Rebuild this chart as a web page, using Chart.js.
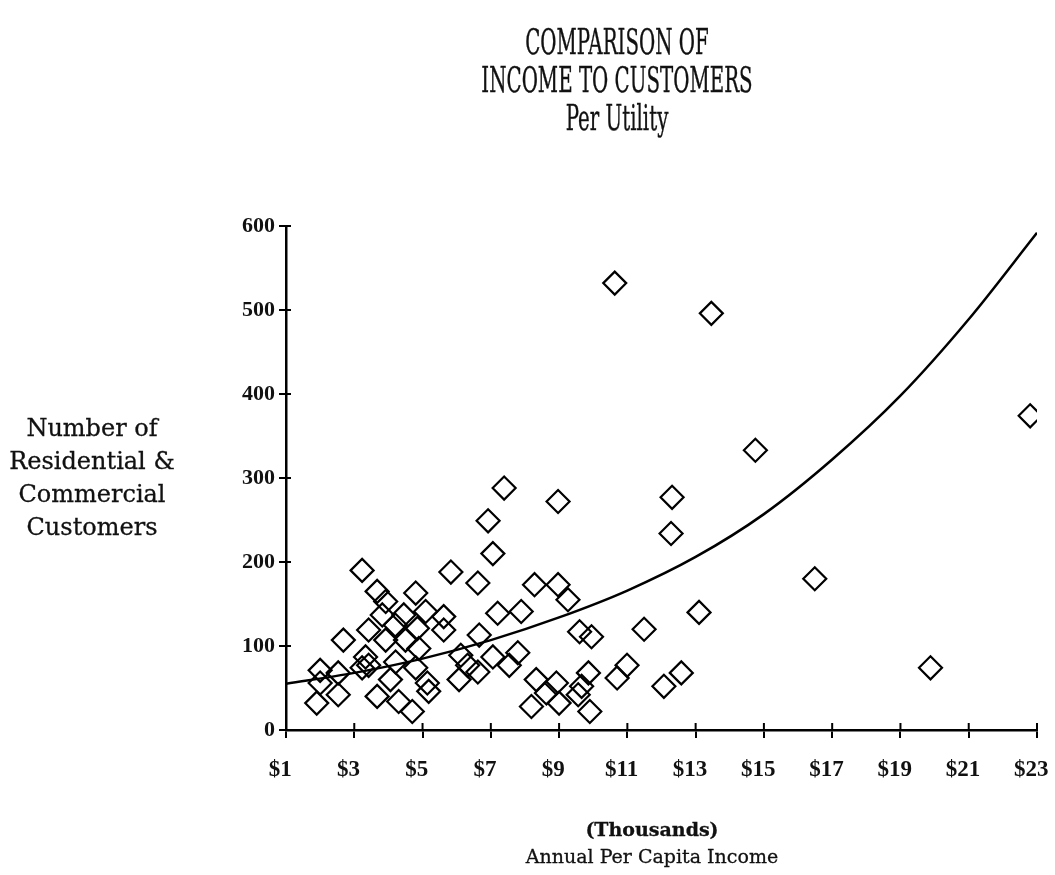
<!DOCTYPE html>
<html>
<head>
<meta charset="utf-8">
<script src="https://cdn.jsdelivr.net/npm/chart.js@4.4.1/dist/chart.umd.min.js"></script>
<style>
  body { margin: 0; background: #fff; }
  #wrap { position: relative; width: 1055px; height: 875px; }
  #title {
    position: absolute; left: 617px; top: 23px;
    transform: translateX(-50%) scaleX(0.55);
    font-family: "DejaVu Serif"; font-size: 36px; line-height: 38px;
    -webkit-text-stroke: 0.4px #111;
    text-align: center; white-space: nowrap; color: #111;
  }
  #ytitle {
    position: absolute; left: 0; top: 412px; width: 184px;
    font-family: "DejaVu Serif"; font-size: 24px; line-height: 33px;
    -webkit-text-stroke: 0.3px #111;
    text-align: center; color: #111;
  }
  #xtitle {
    position: absolute; left: 452px; top: 816px; width: 400px;
    font-family: "DejaVu Serif"; font-size: 19px; line-height: 27px;
    -webkit-text-stroke: 0.3px #111;
    text-align: center; color: #111;
  }
  #xtitle b { font-size: 19px; }
</style>
</head>
<body>
<div id="wrap">
  <canvas id="chart" width="1055" height="875"></canvas>
  <div id="title">COMPARISON OF<br>INCOME TO CUSTOMERS<br>Per Utility</div>
  <div id="ytitle">Number of<br>Residential &amp;<br>Commercial<br>Customers</div>
  <div id="xtitle"><b>(Thousands)</b><br>Annual Per Capita Income</div>
</div>
<script>
// income per capita (thousands) and number of customers
var incomeX = [
  10.63, 13.46, 22.8, 14.75, 8.97, 12.31, 12.28, 7.39, 6.92, 7.06,
  16.49, 19.88, 13.1, 11.49, 10.99, 10.7, 12.58, 12.07,
  6.62, 8.28, 8.97, 9.26, 7.2, 7.89, 6.66, 9.6, 9.95, 7.06,
  7.79, 7.54, 6.62, 8.33, 8.92, 9.86, 9.66, 8.63, 8.19, 9.0, 9.56, 9.9,
  3.23, 5.83, 3.67, 4.8, 3.92, 3.82, 4.45, 5.09, 5.62, 4.85,
  5.62, 3.42, 2.68, 3.92, 4.5, 4.89, 3.33, 3.42, 4.21, 4.8,
  2.0, 2.53, 3.23, 4.06, 5.14, 2.0, 2.53, 1.9, 3.67, 4.3,
  4.7, 6.12, 6.32, 6.07, 5.18, 4.2
];
var customersY = [
  532, 496, 374, 333, 272, 277, 234, 288, 249, 210,
  180, 74, 140, 120, 77, 62, 68, 52,
  175, 173, 173, 155, 139, 141, 113, 117, 111, 87,
  92, 77, 69, 60, 56, 68, 52, 44, 28, 32, 42, 22,
  190, 188, 165, 163, 153, 137, 137, 141, 135, 121,
  119, 119, 107, 107, 107, 97, 87, 77, 81, 74,
  71, 68, 74, 60, 56, 56, 42, 32, 40, 34,
  22, 89, 77, 60, 46, 125
];

// fitted curve, read at each labelled income
var curveX = [1, 3, 5, 7, 9, 11, 13, 15, 17, 19, 21, 23];
var curveY = [55, 68, 85, 107, 134, 166, 206, 257, 322, 398, 489, 592];

var yTicks = [0, 100, 200, 300, 400, 500, 600];

var points = [];
for (var i = 0; i < incomeX.length; i++) {
  points.push({x: incomeX[i], y: customersY[i]});
}
var curve = [];
for (var j = 0; j < curveX.length; j++) {
  curve.push({x: curveX[j], y: curveY[j]});
}

// little ticks that poke into the plot as well
var crossTicks = {
  id: 'crossTicks',
  afterDraw: function(chart) {
    var ctx = chart.ctx;
    var xs = chart.scales.x, ys = chart.scales.y;
    ctx.save();
    ctx.strokeStyle = '#000';
    ctx.lineWidth = 2;
    ctx.beginPath();
    xs.ticks.forEach(function(t) {
      var px = xs.getPixelForValue(t.value);
      ctx.moveTo(px, ys.bottom);
      ctx.lineTo(px, ys.bottom - 7);
    });
    ys.ticks.forEach(function(t) {
      var py = ys.getPixelForValue(t.value);
      ctx.moveTo(xs.left, py);
      ctx.lineTo(xs.left + 5, py);
    });
    ctx.stroke();
    ctx.restore();
  }
};

new Chart(document.getElementById('chart'), {
  type: 'scatter',
  data: {
    datasets: [{
      data: points,
      pointStyle: 'rectRot',
      pointRadius: 11.5,
      pointHoverRadius: 11.5,
      borderColor: '#000',
      backgroundColor: 'rgba(0,0,0,0)',
      borderWidth: 2.2
    }, {
      type: 'line',
      data: curve,
      borderColor: '#000',
      borderWidth: 2.5,
      pointRadius: 0,
      cubicInterpolationMode: 'monotone',
      fill: false
    }]
  },
  options: {
    responsive: false,
    animation: false,
    events: [],
    layout: { padding: { top: 226, right: 18, bottom: 0, left: 0 } },
    plugins: { legend: { display: false }, tooltip: { enabled: false } },
    scales: {
      x: {
        type: 'linear', min: 1, max: 23,
        afterFit: function(s) { s.height = 145; s.paddingLeft = 0; s.paddingRight = 0; },
        border: { color: '#000', width: 2.5 },
        grid: { drawOnChartArea: false, drawTicks: true, tickLength: 8, color: '#000', lineWidth: 2 },
        ticks: {
          stepSize: 2, padding: 18, color: '#111',
          font: { family: 'Liberation Serif', size: 23, weight: 'bold' },
          // en space after the label nudges it a little left of its tick, as printed
          callback: function(v) { return '$' + v + '\u2002'; }
        }
      },
      y: {
        min: 0, max: 600,
        afterFit: function(s) { s.width = 286; },
        afterBuildTicks: function(s) { s.ticks = yTicks.map(function(v) { return {value: v}; }); },
        border: { color: '#000', width: 2.5 },
        grid: { drawOnChartArea: false, drawTicks: true, tickLength: 7, color: '#000', lineWidth: 2 },
        ticks: {
          padding: 4, color: '#111',
          font: { family: 'Liberation Serif', size: 22, weight: 'bold' }
        }
      }
    }
  },
  plugins: [crossTicks]
});
</script>
</body>
</html>
